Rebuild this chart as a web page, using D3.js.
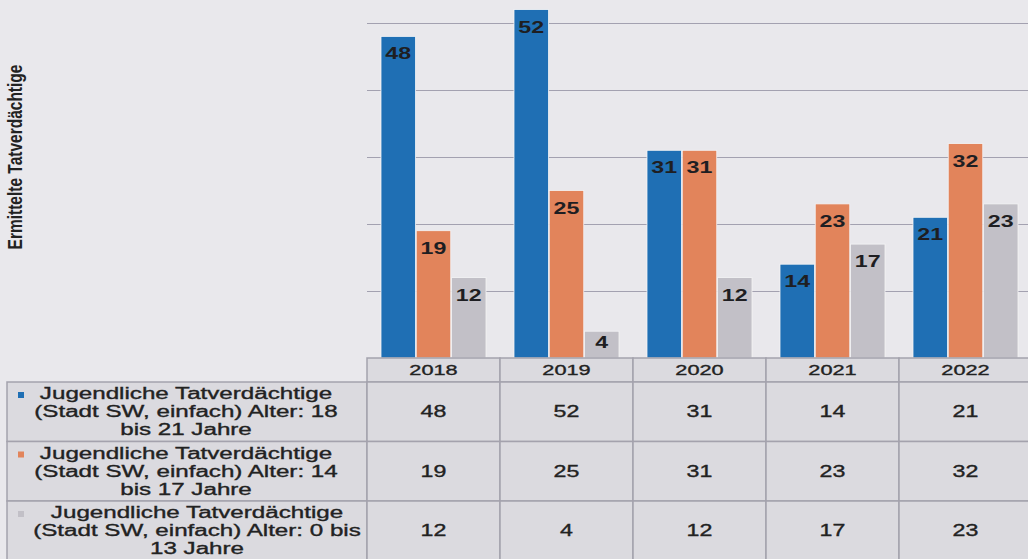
<!DOCTYPE html>
<html lang="de">
<head>
    <meta charset="utf-8">
    <script src="https://cdn.jsdelivr.net/npm/d3@7"></script>
    <style>
        body { margin: 0; background: #e9e8ec; }
        svg { display: block; font-family: "Liberation Sans", Arial, sans-serif; }
        .grid line { stroke: #a3a1b0; stroke-width: 1.2; }
        .cell { fill: #dbdadf; stroke: #a4a2ad; stroke-width: 1.5; }
        .tt { stroke: #222; stroke-width: 0.35; }
    </style>
</head>
<body>
<div id="chart"></div>
<script type="text/javascript">
    // data
    var years = ["2018", "2019", "2020", "2021", "2022"];
    var seriesKeys = ["18-21", "14-17", "0-13"];
    var age18to21 = [48, 52, 31, 14, 21];
    var age14to17 = [19, 25, 31, 23, 32];
    var age0to13 = [12, 4, 12, 17, 23];
    var seriesLabels = [
        ["Jugendliche Tatverdächtige", "(Stadt SW, einfach) Alter: 18", "bis 21 Jahre"],
        ["Jugendliche Tatverdächtige", "(Stadt SW, einfach) Alter: 14", "bis 17 Jahre"],
        ["Jugendliche Tatverdächtige", "(Stadt SW, einfach) Alter: 0 bis", "13 Jahre"]
    ];
    var gridTicks = [10, 20, 30, 40, 50];
    var yTitle = "Ermittelte Tatverdächtige";

    var seriesValues = [age18to21, age14to17, age0to13];
    var colors = ["#1f6fb4", "#e2845b", "#c2c0c7"];

    var width = 1028, height = 559;
    var stretch = 1.45;   // the scan is stretched sideways, text too
    var plot = {left: 367, right: 1032, base: 358};
    var table = {left: 7, header: 24, row: 59.5};

    var svg = d3.select("#chart").append("svg")
        .attr("width", width)
        .attr("height", height);

    svg.append("rect")
        .attr("width", width).attr("height", height)
        .attr("fill", "#e9e8ec");

    var x = d3.scaleBand()
        .domain(years)
        .range([plot.left, plot.right]);

    var x1 = d3.scaleBand()
        .domain(seriesKeys)
        .range([14, x.bandwidth() - 14])
        .paddingInner(0.02);

    var y = d3.scaleLinear()
        .domain([0, 60])
        .range([plot.base, plot.base - 402]);

    function stretchedText(g, tx, ty, txt, sx) {
        return g.append("text")
            .attr("transform", "translate(" + tx + "," + ty + ") scale(" + (sx || stretch) + ",1)")
            .attr("text-anchor", "middle")
            .text(txt);
    }

    // gridlines
    svg.append("g")
        .attr("class", "grid")
        .selectAll("line")
        .data(gridTicks)
        .enter().append("line")
        .attr("x1", plot.left)
        .attr("x2", width)
        .attr("y1", function(d) { return Math.round(y(d)) + 0.5; })
        .attr("y2", function(d) { return Math.round(y(d)) + 0.5; });

    // y title
    svg.append("text")
        .attr("transform", "translate(22,157) scale(1.35,1) rotate(-90)")
        .attr("text-anchor", "middle")
        .style("font-size", "15.5px")
        .style("font-weight", "bold")
        .attr("fill", "#222")
        .text(yTitle);

    // bars
    var rows = [];
    years.forEach(function(yr, i) {
        seriesKeys.forEach(function(k, s) {
            rows.push({year: yr, key: k, s: s, value: seriesValues[s][i]});
        });
    });

    svg.append("g")
        .selectAll("rect")
        .data(rows)
        .enter().append("rect")
        .attr("x", function(d) { return x(d.year) + x1(d.key); })
        .attr("y", function(d) { return y(d.value); })
        .attr("width", x1.bandwidth())
        .attr("height", function(d) { return y(0) - y(d.value); })
        .attr("fill", function(d) { return colors[d.s]; })
        .attr("stroke", "#f4f4f6")
        .attr("stroke-width", 0.8);

    var barLabels = svg.append("g")
        .style("font-size", "16px")
        .style("font-weight", "bold")
        .attr("fill", "#1e1e22");
    rows.forEach(function(d) {
        var top = y(d.value);
        var ly = Math.min(top + 23, (top + y(0)) / 2 + 3);
        stretchedText(barLabels, x(d.year) + x1(d.key) + x1.bandwidth() / 2, ly, d.value);
    });

    // data table
    var tbl = svg.append("g");
    years.forEach(function(yr) {
        tbl.append("rect")
            .attr("class", "cell")
            .attr("x", x(yr)).attr("y", plot.base)
            .attr("width", x.bandwidth()).attr("height", table.header);
    });
    var headTxt = tbl.append("g").attr("class", "tt").style("font-size", "15px").attr("fill", "#222");
    years.forEach(function(yr) {
        stretchedText(headTxt, x(yr) + x.bandwidth() / 2, plot.base + 17, yr);
    });

    var rowTop = plot.base + table.header;
    seriesValues.forEach(function(vals, s) {
        var top = rowTop + s * table.row;
        tbl.append("rect")
            .attr("class", "cell")
            .attr("x", table.left).attr("y", top)
            .attr("width", plot.left - table.left).attr("height", table.row);
        years.forEach(function(yr, i) {
            tbl.append("rect")
                .attr("class", "cell")
                .attr("x", x(yr)).attr("y", top)
                .attr("width", x.bandwidth()).attr("height", table.row);
        });
        tbl.append("rect")
            .attr("x", 18).attr("y", top + 10)
            .attr("width", 6).attr("height", 6)
            .attr("fill", colors[s]);
        var lab = tbl.append("g").attr("class", "tt").style("font-size", "16px").attr("fill", "#222");
        seriesLabels[s].forEach(function(line, j) {
            stretchedText(lab, s === 2 ? 197 : 186, top + 17 + j * 18, line, 1.51);
        });
        years.forEach(function(yr, i) {
            stretchedText(lab, x(yr) + x.bandwidth() / 2, top + 35, vals[i]);
        });
    });
</script>
</body>
</html>
